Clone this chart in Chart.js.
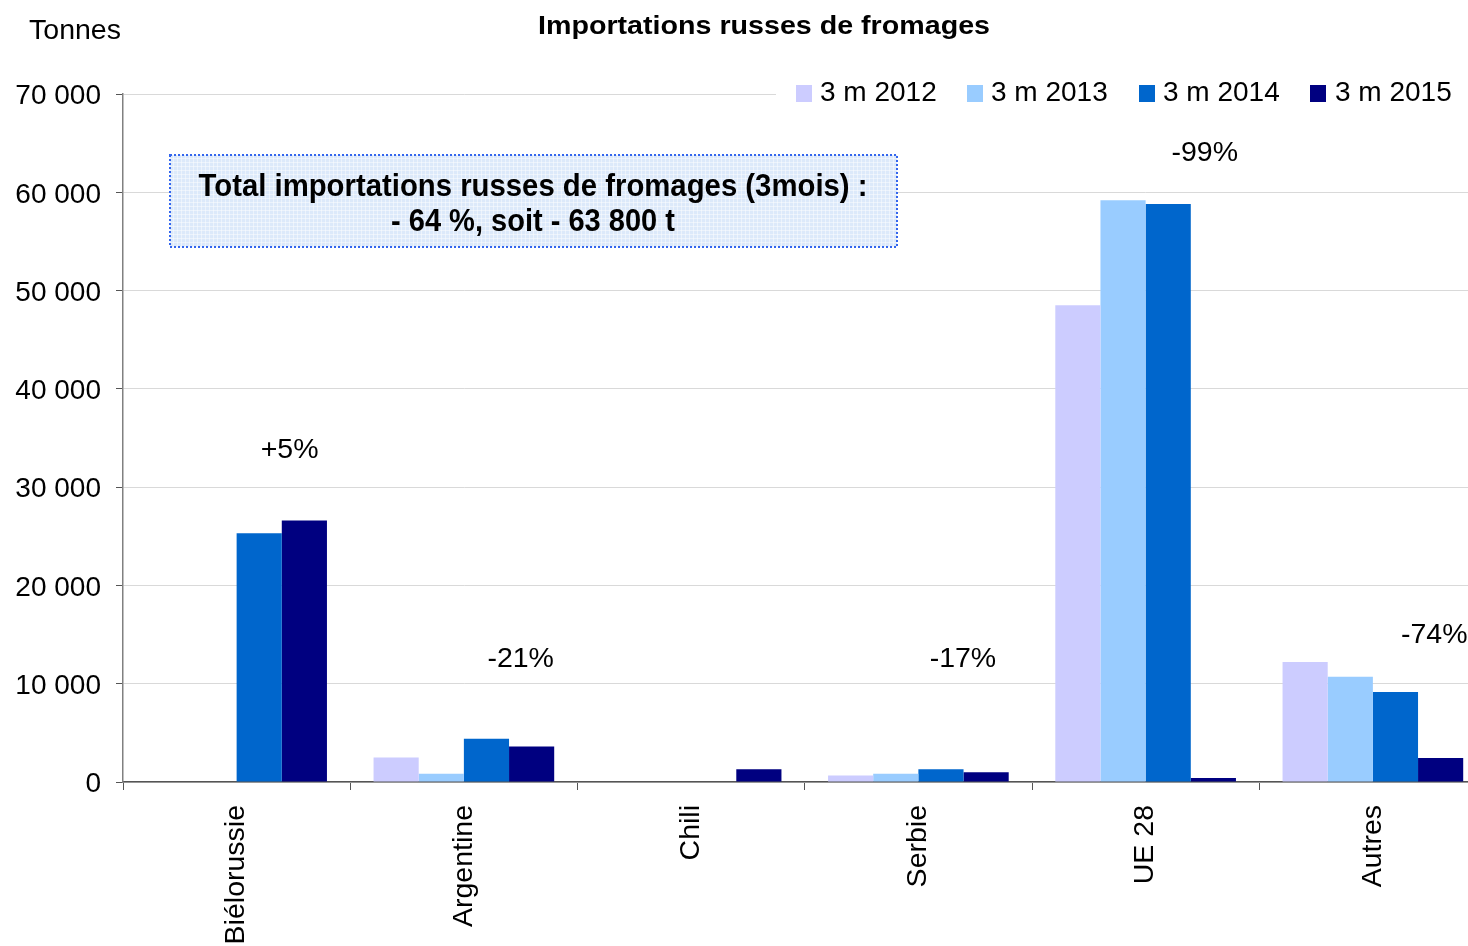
<!DOCTYPE html>
<html>
<head>
<meta charset="utf-8">
<script src="https://cdn.jsdelivr.net/npm/chart.js@4.4.1/dist/chart.umd.min.js"></script>
<style>
html,body{margin:0;padding:0;background:#fff;overflow:hidden;width:1468px;height:946px;}
canvas{display:block;}
</style>
</head>
<body>
<canvas id="c" width="1490" height="946" style="width:1490px;height:946px"></canvas>
<script>
// ---- data ----
const categories = ['Biélorussie', 'Argentine', 'Chili', 'Serbie', 'UE 28', 'Autres'];
const seriesNames = ['3 m 2012', '3 m 2013', '3 m 2014', '3 m 2015'];
const s2012 = [0, 2500, 0, 650, 48500, 12200];
const s2013 = [0, 850, 0, 850, 59200, 10700];
const s2014 = [25300, 4400, 0, 1300, 58800, 9150];
const s2015 = [26600, 3600, 1300, 1000, 400, 2450];
const yTickValues = [0, 10000, 20000, 30000, 40000, 50000, 60000, 70000];
const changeLabels = ['+5%', '-21%', '', '-17%', '-99%', '-74%'];
const titleText = 'Importations russes de fromages';
const unitText = 'Tonnes';
const boxLines = ['Total importations russes de fromages (3mois) :', '- 64 %, soit - 63 800 t'];

// ---- styling / placement (not data) ----
const colors = ['#CCCCFF', '#99CCFF', '#0066CC', '#000080'];
const changeLabelPos = [ // [fraction of category width offset from centre, y value]
  [0.233, 34000], [0.25, 12700], [0, 0], [0.196, 12700], [0.26, 64200], [0.27, 15100]
];
const FONT = "'Liberation Sans', Arial, sans-serif";

function fmt(v){ return String(v).replace(/\B(?=(\d{3})+(?!\d))/g, ' '); }

function drawScaledText(ctx, text, cx, cy, targetW, font, align){
  ctx.save();
  ctx.font = font;
  const w = ctx.measureText(text).width;
  const sx = targetW ? targetW / w : 1;
  ctx.translate(cx, cy);
  ctx.scale(sx, 1);
  ctx.textAlign = align || 'center';
  ctx.textBaseline = 'middle';
  ctx.fillText(text, 0, 0);
  ctx.restore();
}

const overlay = {
  id: 'overlay',
  afterDraw(chart){
    const ctx = chart.ctx;
    const xs = chart.scales.x, ys = chart.scales.y;
    ctx.save();
    ctx.fillStyle = '#000';
    // title
    drawScaledText(ctx, titleText, 764, 27, 452, "bold 25px " + FONT);
    // unit
    drawScaledText(ctx, unitText, 75, 31, null, "28.5px " + FONT);

    // legend with white background
    ctx.fillStyle = '#fff';
    ctx.fillRect(776, 76, 692, 32);
    const legX = [796, 967, 1139, 1310];
    const txtX = [820, 991, 1163, 1335];
    ctx.font = "28px " + FONT;
    ctx.textBaseline = 'middle';
    ctx.textAlign = 'left';
    for (let i = 0; i < 4; i++){
      ctx.fillStyle = colors[i];
      ctx.fillRect(legX[i], 85, 16, 17);
      ctx.fillStyle = '#000';
      ctx.fillText(seriesNames[i], txtX[i], 93);
    }

    // text box
    const bx = 170, by = 155, bw = 727, bh = 92;
    ctx.fillStyle = '#dce9fa';
    ctx.fillRect(bx, by, bw, bh);
    ctx.strokeStyle = 'rgba(255,255,255,0.45)';
    ctx.lineWidth = 1;
    for (let x = bx + 3; x < bx + bw; x += 4){ ctx.beginPath(); ctx.moveTo(x + 0.5, by); ctx.lineTo(x + 0.5, by + bh); ctx.stroke(); }
    for (let y = by + 3; y < by + bh; y += 4){ ctx.beginPath(); ctx.moveTo(bx, y + 0.5); ctx.lineTo(bx + bw, y + 0.5); ctx.stroke(); }
    ctx.setLineDash([2, 2]);
    ctx.strokeStyle = '#3366ee';
    ctx.lineWidth = 2;
    ctx.strokeRect(bx, by, bw, bh);
    ctx.setLineDash([]);
    ctx.fillStyle = '#000';
    drawScaledText(ctx, boxLines[0], 533, 187, 669, "bold 31px " + FONT);
    drawScaledText(ctx, boxLines[1], 533, 222, 284, "bold 31px " + FONT);

    // change labels
    ctx.fillStyle = '#000';
    const cw = xs.getPixelForValue(1) - xs.getPixelForValue(0);
    for (let i = 0; i < categories.length; i++){
      if (!changeLabels[i]) continue;
      const px = xs.getPixelForValue(i) + changeLabelPos[i][0] * cw;
      const py = ys.getPixelForValue(changeLabelPos[i][1]) + 2;
      drawScaledText(ctx, changeLabels[i], px, py, null, "28.5px " + FONT);
    }
    ctx.restore();
  }
};

const datasets = [s2012, s2013, s2014, s2015].map((d, i) => ({
  label: seriesNames[i],
  data: d,
  backgroundColor: colors[i],
  borderWidth: 0,
  categoryPercentage: 0.795,
  barPercentage: 1.0
}));

new Chart(document.getElementById('c'), {
  type: 'bar',
  data: { labels: categories, datasets },
  plugins: [overlay],
  options: {
    responsive: false,
    devicePixelRatio: 1,
    animation: false,
    layout: { padding: { top: 94, left: 0, right: 3.5, bottom: 0 } },
    plugins: { legend: { display: false }, title: { display: false }, tooltip: { enabled: false } },
    scales: {
      x: {
        afterFit(scale){ scale.height = 164; },
        grid: { display: true, drawOnChartArea: false, drawTicks: true, tickLength: 8, tickColor: '#555', offset: true },
        border: { display: true, color: '#555', width: 1.5 },
        ticks: { minRotation: 90, maxRotation: 90, padding: 15, labelOffset: 0, color: '#000', font: { family: FONT, size: 28.5 } }
      },
      y: {
        min: 0, max: 70000,
        afterFit(scale){ scale.width = 123; },
        afterBuildTicks(scale){ scale.ticks = yTickValues.map(v => ({ value: v })); },
        grid: { color: '#d9d9d9', lineWidth: 1, tickLength: 7, tickColor: '#555', drawTicks: true },
        border: { display: true, color: '#808080', width: 1.5 },
        ticks: { padding: 15, labelOffset: 2.5, color: '#000', font: { family: FONT, size: 28 }, callback: v => fmt(v) }
      }
    }
  }
});
</script>
</body>
</html>
